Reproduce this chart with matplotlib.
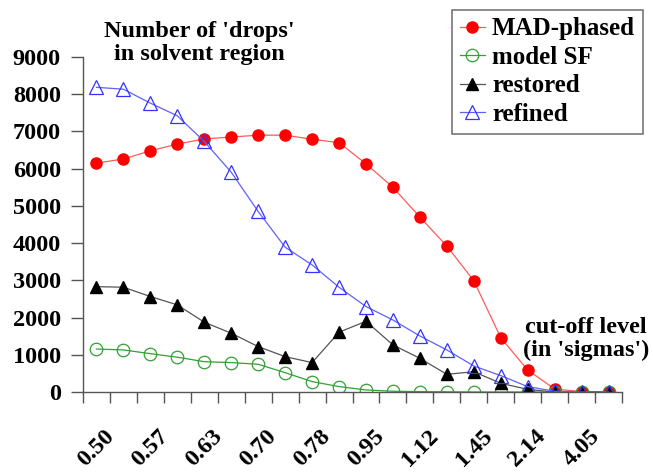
import matplotlib

matplotlib.use("Agg")
import matplotlib.pyplot as plt  # noqa: E402
import numpy as np  # noqa: E402

plt.rcParams["font.family"] = ["Liberation Serif", "DejaVu Serif"]
plt.rcParams["font.weight"] = "bold"

# cut-off levels (every other one is labelled on the axis)
cutoff_labels = ["0.50", "0.57", "0.63", "0.70", "0.78",
                 "0.95", "1.12", "1.45", "2.14", "4.05"]
n_levels = 20

mad_phased = [6150, 6260, 6480, 6660, 6800, 6850, 6900, 6900, 6790, 6700,
              6130, 5500, 4700, 3920, 2990, 1460, 590, 80, 10, 0]
model_sf = [1155, 1130, 1030, 935, 815, 790, 745, 520, 280, 145,
            55, 20, 10, 5, 0, 0, 0, 0, 0, 0]
restored = [2830, 2815, 2565, 2340, 1875, 1580, 1220, 950, 790, 1605,
            1900, 1265, 905, 475, 545, 235, 70, 0, 0, 0]
refined = [8185, 8135, 7760, 7420, 6730, 5905, 4850, 3890, 3415, 2815,
           2295, 1935, 1505, 1130, 700, 440, 145, 20, 0, 0]

x = np.arange(n_levels)

fig = plt.figure(figsize=(6.53, 4.72), dpi=100)
ax = fig.add_axes([83 / 653, 1 - 392 / 472, (622 - 83) / 653, (392 - 57) / 472])

ax.plot(x, mad_phased, color="#ff5a5a", lw=0.9, marker="o", ms=8,
        mfc="#ff0000", mec="#ff0000", label="MAD-phased")
ax.plot(x, model_sf, color="#33a033", lw=0.9, marker="o", ms=9,
        mfc="none", mec="#33a033", mew=0.9, label="model SF")
ax.plot(x, restored, color="#555555", lw=0.9, marker="^", ms=8.5,
        mfc="black", mec="black", label="restored")
ax.plot(x, refined, color="#6060ff", lw=0.9, marker="^", ms=9.5,
        mfc="none", mec="#3333ff", mew=0.9, label="refined")

ax.set_xlim(-0.5, n_levels - 0.5)
ax.set_ylim(0, 9000)
ax.set_yticks(range(0, 9001, 1000))
ax.tick_params(axis="y", direction="out", length=9, width=1, color="#555555",
               labelsize=17.5, pad=7)
for t in ax.get_yticklabels():
    t.set_fontweight("bold")

ax.set_xticks(x[::2])
ax.set_xticklabels(cutoff_labels, rotation=45, ha="center", va="top",
                   fontsize=17.5, fontweight="bold")
ax.tick_params(axis="x", which="major", length=0, pad=24)
ax.set_xticks(np.arange(n_levels + 1) - 0.5, minor=True)
ax.tick_params(axis="x", which="minor", direction="out", length=8, width=1,
               color="#555555")

for side in ["top", "right"]:
    ax.spines[side].set_visible(False)
for side in ["left", "bottom"]:
    ax.spines[side].set_color("#555555")
    ax.spines[side].set_linewidth(1)

fig.text(199 / 653, 1 - 43 / 472, "Number of 'drops'\nin solvent region",
         ha="center", va="center", fontsize=17.5, fontweight="bold",
         linespacing=1.1)
fig.text(586 / 653, 1 - 339 / 472, "cut-off level\n(in 'sigmas')",
         ha="center", va="center", fontsize=17.5, fontweight="bold",
         linespacing=1.1)

leg = fig.legend(loc="upper left", bbox_to_anchor=(452 / 653, 1 - 10 / 472),
                 frameon=True, fancybox=False, handlelength=1.0,
                 handletextpad=0.3, labelspacing=0.22, borderpad=0.3,
                 borderaxespad=0, prop={"weight": "bold", "size": 18})
leg.get_frame().set_edgecolor("#555555")
leg.get_frame().set_linewidth(1.2)

fig.savefig("out.png", dpi=100)
